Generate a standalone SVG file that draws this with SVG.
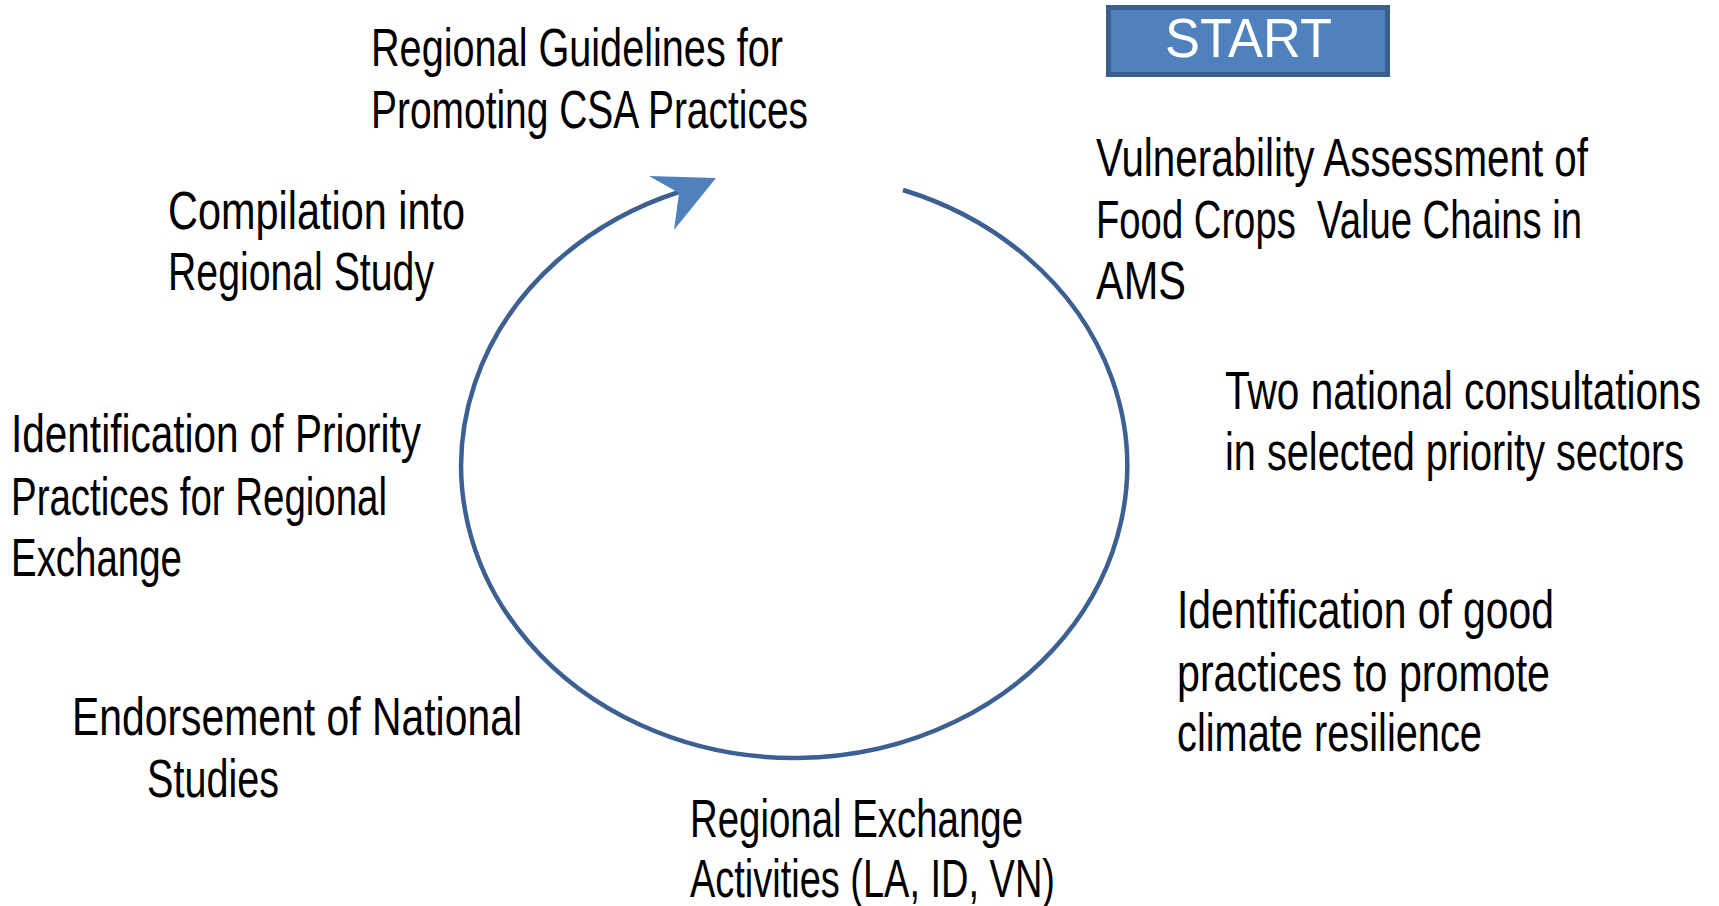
<svg xmlns="http://www.w3.org/2000/svg" width="1719" height="906" viewBox="0 0 1719 906">
<style>
.t{font-family:"Liberation Sans",Arial,sans-serif;font-size:53px;fill:#000;white-space:pre}
.st{font-family:"Liberation Sans",Arial,sans-serif;font-size:55px;fill:#fff}
.n{transform:scale(0.8,1)}
</style>
<rect width="1719" height="906" fill="#fff"/>
<g id="connectors">
<path d="M 903 190 A 333 292 0 1 1 679 192" fill="none" stroke="#3C6091" stroke-width="4.5"/>
<polygon points="716,178 649,176 679,193 674,230" fill="#4F81BD"/>
</g>
<g id="start">
<rect x="1108.5" y="7.5" width="279" height="67" fill="#4F81BD" stroke="#3A5F8F" stroke-width="5"/>
<text class="st" x="1165" y="57" textLength="167" lengthAdjust="spacingAndGlyphs">START</text>
</g>
<g id="node-guidelines" class="n">
<text class="t" x="463.75" y="66" textLength="515" lengthAdjust="spacingAndGlyphs">Regional Guidelines for</text>
<text class="t" x="463.75" y="128" textLength="546.25" lengthAdjust="spacingAndGlyphs">Promoting CSA Practices</text>
</g>
<g id="node-vulnerability" class="n">
<text class="t" x="1370" y="176" textLength="615" lengthAdjust="spacingAndGlyphs">Vulnerability Assessment of</text>
<text class="t" x="1370" y="238" textLength="607.5" lengthAdjust="spacingAndGlyphs">Food Crops  Value Chains in</text>
<text class="t" x="1370" y="299" textLength="112.5" lengthAdjust="spacingAndGlyphs">AMS</text>
</g>
<g id="node-consultations" class="n">
<text class="t" x="1531.25" y="409" textLength="595" lengthAdjust="spacingAndGlyphs">Two national consultations</text>
<text class="t" x="1531.25" y="470" textLength="573.75" lengthAdjust="spacingAndGlyphs">in selected priority sectors</text>
</g>
<g id="node-good-practices" class="n">
<text class="t" x="1471.25" y="628" textLength="471.25" lengthAdjust="spacingAndGlyphs">Identification of good</text>
<text class="t" x="1471.25" y="691" textLength="466.25" lengthAdjust="spacingAndGlyphs">practices to promote</text>
<text class="t" x="1471.25" y="751" textLength="381.25" lengthAdjust="spacingAndGlyphs">climate resilience</text>
</g>
<g id="node-exchange-activities" class="n">
<text class="t" x="862.5" y="837" textLength="416.25" lengthAdjust="spacingAndGlyphs">Regional Exchange</text>
<text class="t" x="862.5" y="897" textLength="456.25" lengthAdjust="spacingAndGlyphs">Activities (LA, ID, VN)</text>
</g>
<g id="node-endorsement" class="n">
<text class="t" x="90" y="735" textLength="562.5" lengthAdjust="spacingAndGlyphs">Endorsement of National</text>
<text class="t" x="183.75" y="797" textLength="165" lengthAdjust="spacingAndGlyphs">Studies</text>
</g>
<g id="node-priority" class="n">
<text class="t" x="13.75" y="452" textLength="512.5" lengthAdjust="spacingAndGlyphs">Identification of Priority</text>
<text class="t" x="13.75" y="515" textLength="470" lengthAdjust="spacingAndGlyphs">Practices for Regional</text>
<text class="t" x="13.75" y="576" textLength="213.75" lengthAdjust="spacingAndGlyphs">Exchange</text>
</g>
<g id="node-compilation" class="n">
<text class="t" x="210" y="229" textLength="371.25" lengthAdjust="spacingAndGlyphs">Compilation into</text>
<text class="t" x="210" y="290" textLength="332.5" lengthAdjust="spacingAndGlyphs">Regional Study</text>
</g>
</svg>
